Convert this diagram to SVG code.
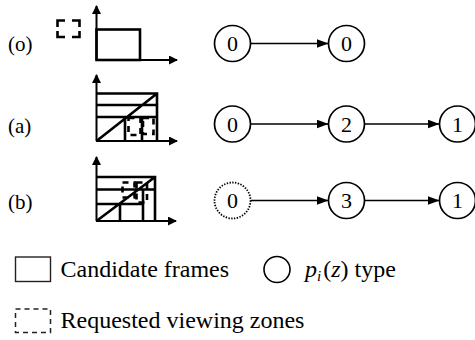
<svg xmlns="http://www.w3.org/2000/svg" width="475" height="340" viewBox="0 0 475 340">
  <style>
    text { font-family: 'Liberation Serif', 'Times New Roman', Tinos, 'DejaVu Serif', serif; fill: #000; }
    .lbl { font-size: 21px; }
    .leg { font-size: 24px; }
    .num { font-size: 22px; text-anchor: middle; }
    .axis { stroke: #000; stroke-width: 2; fill: none; }
    .frame { stroke: #000; stroke-width: 2.6; fill: none; }
    .zone { stroke: #000; stroke-width: 2.6; fill: none; stroke-dasharray: 6 5; }
    .node { stroke: #000; stroke-width: 1.7; fill: #fff; }
    .dotted { stroke: #000; stroke-width: 1.8; fill: #fff; stroke-dasharray: 1.4 1.4; }
    .edge { stroke: #000; stroke-width: 1.5; fill: none; marker-end: url(#tip); }
  </style>
  <defs>
    <marker id="tip" viewBox="0 0 12 9" refX="12" refY="4.5" markerWidth="12" markerHeight="9" markerUnits="userSpaceOnUse" orient="auto">
      <path d="M0,0 L12,4.5 L0,9 Z" fill="#000"/>
    </marker>
    <marker id="ax" viewBox="0 0 9 9" refX="8" refY="4.5" markerWidth="9" markerHeight="9" markerUnits="userSpaceOnUse" orient="auto">
      <path d="M0,0 L9,4.5 L0,9 Z" fill="#000"/>
    </marker>
  </defs>

  <!-- row labels -->
  <g id="labels">
    <text class="lbl" x="8" y="51">(o)</text>
    <text class="lbl" x="8" y="133">(a)</text>
    <text class="lbl" x="8" y="209">(b)</text>
  </g>

  <!-- (o) frame plot -->
  <g id="plot-o">
    <path class="axis" d="M96.5,60 V6" marker-end="url(#ax)"/>
    <path class="axis" d="M96,60 H177" marker-end="url(#ax)"/>
    <rect class="frame" x="96.5" y="29.5" width="43.5" height="30.5"/>
    <path class="frame" d="M57.5,27 V20.5 H65 M72,20.5 H79.5 V27 M57.5,31 V37 H65 M72,37 H79.5 V31"/>
  </g>

  <!-- (a) frame plot -->
  <g id="plot-a">
    <path class="axis" d="M96.5,141 V75" marker-end="url(#ax)"/>
    <path class="axis" d="M96,141 H177" marker-end="url(#ax)"/>
    <path class="frame" d="M96.5,93.5 H157 V141 M96.5,105 H157 M96.5,117 H157 M125,117 V141 M142,117 V141 M96.5,141 L157,93.5"/>
    <rect class="zone" x="128.5" y="118" width="12" height="17"/>
    <rect class="zone" x="143" y="118" width="10.5" height="16"/>
  </g>

  <!-- (b) frame plot -->
  <g id="plot-b">
    <path class="axis" d="M96.5,221 V157" marker-end="url(#ax)"/>
    <path class="axis" d="M96,221 H176" marker-end="url(#ax)"/>
    <path class="frame" d="M96.5,177 H155 V221 M96.5,189.5 H155 M96.5,204 H144 M120,204 V221 M143,189.5 V221 M96.5,221 L155,177"/>
    <rect class="zone" x="122.5" y="182.5" width="12" height="15"/>
    <rect class="zone" x="136.5" y="182.5" width="10.5" height="20"/>
  </g>

  <!-- connectors -->
  <g id="connectors">
    <line class="edge" x1="250.5" y1="43.5" x2="328.5" y2="43.5"/>
    <line class="edge" x1="250.5" y1="124" x2="328.5" y2="124"/>
    <line class="edge" x1="364.5" y1="124" x2="439.5" y2="124"/>
    <line class="edge" x1="250.5" y1="200.5" x2="328.5" y2="200.5"/>
    <line class="edge" x1="364.5" y1="200.5" x2="439.5" y2="200.5"/>
  </g>

  <!-- p_i(z) type nodes -->
  <g id="o-n0"><circle class="node" cx="232.5" cy="43.5" r="18"/><text class="num" x="232.5" y="51">0</text></g>
  <g id="o-n1"><circle class="node" cx="346.5" cy="43.5" r="18"/><text class="num" x="346.5" y="51">0</text></g>

  <g id="a-n0"><circle class="node" cx="232.5" cy="124" r="18"/><text class="num" x="232.5" y="131.5">0</text></g>
  <g id="a-n1"><circle class="node" cx="346.5" cy="124" r="18"/><text class="num" x="346.5" y="131.5">2</text></g>
  <g id="a-n2"><circle class="node" cx="457.5" cy="124" r="18"/><text class="num" x="457.5" y="131.5">1</text></g>

  <g id="b-n0"><circle class="dotted" cx="232.5" cy="200.5" r="18"/><text class="num" x="232.5" y="208">0</text></g>
  <g id="b-n1"><circle class="node" cx="346.5" cy="200.5" r="18"/><text class="num" x="346.5" y="208">3</text></g>
  <g id="b-n2"><circle class="node" cx="457.5" cy="200.5" r="18"/><text class="num" x="457.5" y="208">1</text></g>

  <!-- legend -->
  <g id="legend">
    <rect x="15.5" y="257" width="35" height="24.5" fill="none" stroke="#222" stroke-width="1.4"/>
    <text class="leg" x="60.5" y="277">Candidate frames</text>
    <circle cx="277" cy="269.5" r="13" fill="none" stroke="#000" stroke-width="1.6"/>
    <text class="leg" x="305" y="277"><tspan font-style="italic">p</tspan><tspan font-style="italic" font-size="15" dy="4">i</tspan><tspan dy="-4" dx="2">(</tspan><tspan font-style="italic">z</tspan><tspan>) type</tspan></text>
    <rect x="15.5" y="309" width="35" height="23.5" fill="none" stroke="#222" stroke-width="1.5" stroke-dasharray="5 4"/>
    <text class="leg" x="60.5" y="328">Requested viewing zones</text>
  </g>
</svg>
